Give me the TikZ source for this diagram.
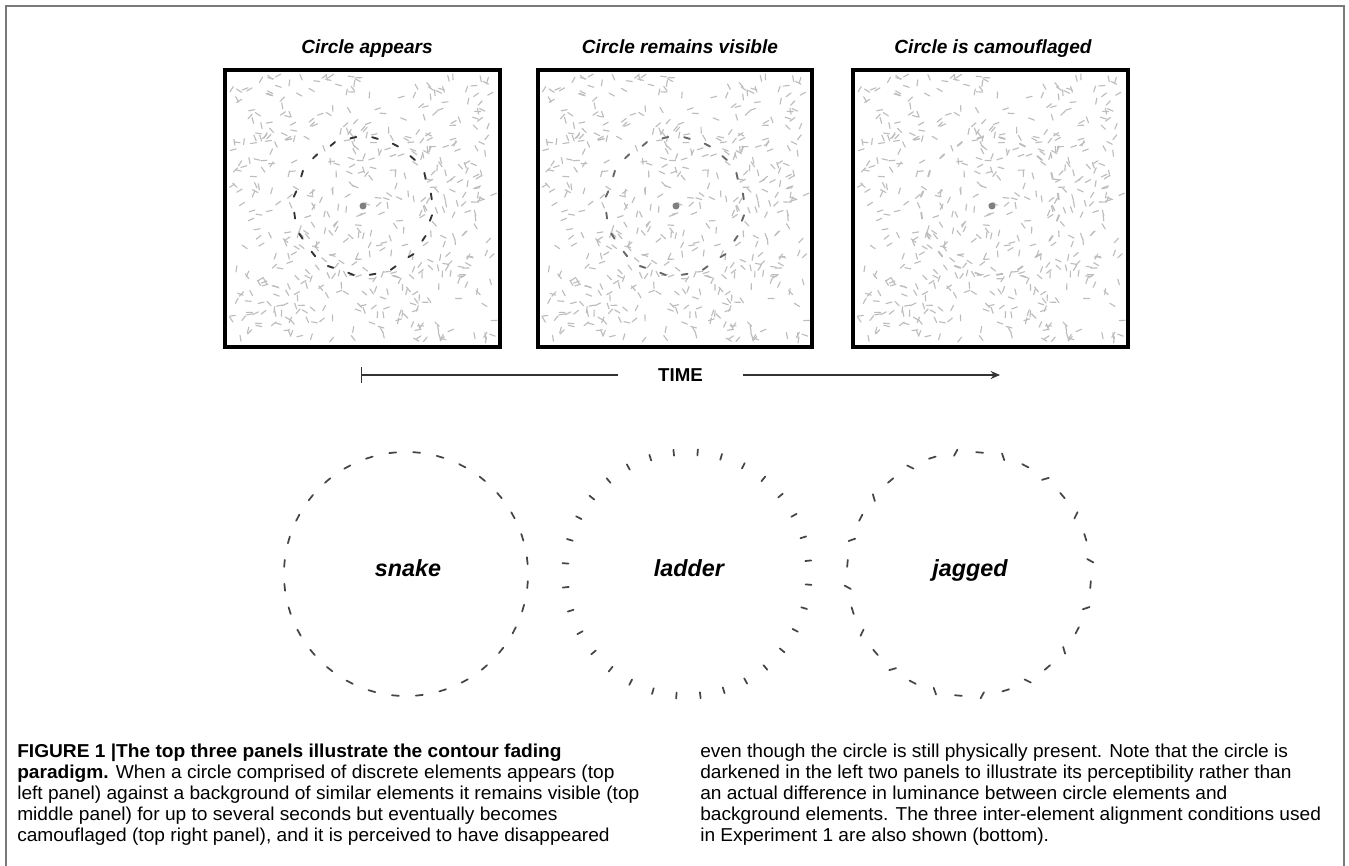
\documentclass[tikz,border=0pt]{standalone}
\usepackage{fontspec}
\setmainfont{Liberation Sans}
\newfontfamily\capfont[FakeStretch=1.025]{Liberation Sans}
\usetikzlibrary{arrows.meta}
\definecolor{bgel}{HTML}{BDBDBD}
\definecolor{darkel}{HTML}{333333}
\definecolor{midel}{HTML}{666666}
\definecolor{framegray}{HTML}{7A7A7A}
\definecolor{ringcol}{HTML}{454545}
\definecolor{linecol}{HTML}{333333}
\tikzset{
  panel/.style={draw=black, line width=3pt, minimum width=206pt, minimum height=208pt, inner sep=0pt},
  ptitle/.style={anchor=base, font=\fontsize{14.3}{17}\selectfont\bfseries\itshape},
  rlabel/.style={anchor=base, font=\fontsize{17.5}{20}\selectfont\bfseries\itshape},
  timelbl/.style={font=\fontsize{14}{16}\selectfont\bfseries, inner xsep=30pt},
  timeln/.style={draw=linecol, line width=1.1pt},
  bgseg/.style={draw=bgel, line width=0.85pt, line cap=round},
  ringel/.style={draw=ringcol, line width=1.3pt, line cap=round},
  capline/.style={anchor=base west, inner sep=0pt, font=\capfont\fontsize{14}{16}\selectfont},
  frameln/.style={draw=framegray, line width=0.8pt}
}
% random background field of a panel centred at (#1,#2)
\newcommand\bgfield[2]{%
  \pgfmathsetseed{4711}%
  \foreach \i in {1,...,540}{%
    \pgfmathsetmacro\rx{#1-132+rnd*264}%
    \pgfmathsetmacro\ry{#2-133+rnd*266}%
    \pgfmathsetmacro\ra{rnd*180}%
    \draw[bgseg] (\rx,\ry) ++(\ra:-3) -- ++(\ra:6);
  }}
% embedded circle in a panel: centre, colour
\newcommand\panelcircle[3]{%
  \pgfmathsetseed{99}%
  \foreach \k in {0,...,19}{%
    \pgfmathsetmacro\ang{100+\k*18}%
    \pgfmathsetmacro\qx{#1+69*cos(\ang)}%
    \pgfmathsetmacro\qy{#2+69*sin(\ang)}%
    \pgfmathsetmacro\ori{\ang+90+rnd*30-15}%
    \draw[draw=#3, line width=1.4pt, line cap=round] (\qx,\qy) ++(\ori:-3) -- ++(\ori:6);
  }}
% contour ring: centre, orientation expression, half length
\newcommand\contourring[4]{%
  \foreach \k in {0,...,31}{%
    \pgfmathsetmacro\ang{95+\k*11.25}%
    \pgfmathsetmacro\qx{#1+122*cos(\ang)}%
    \pgfmathsetmacro\qy{#2+122*sin(\ang)}%
    \pgfmathsetmacro\ori{#3}%
    \draw[ringel] (\qx,\qy) ++(\ori:-#4) -- ++(\ori:2*#4);
  }}
\begin{document}
\begin{tikzpicture}[x=0.75pt,y=-0.75pt]
\useasboundingbox (0,0) rectangle (1349,866);
\fill[white] (0,0) rectangle (1349,866);
% outer frame
\draw[frameln] (6,875) -- (6,6) -- (1344,6) -- (1344,875);

% panels: backgrounds
\bgfield{362.5}{208.5}
\bgfield{675}{208.5}
\bgfield{990.5}{208.5}
\panelcircle{363}{206}{darkel}
\panelcircle{675}{206}{midel}
\panelcircle{990}{206}{bgel}
\fill[gray] (363,206) circle (3.5);
\fill[gray] (676,206) circle (3.5);
\fill[gray] (992,206) circle (3.5);
\node[panel] (p1) at (362.5,208.5) {};
\node[panel] (p2) at (675,208.5) {};
\node[panel] (p3) at (990.5,208.5) {};

% titles
\node[ptitle] (t1) at (367,54) {Circle appears};
\node[ptitle] (t2) at (680,54) {Circle remains visible};
\node[ptitle] (t3) at (993,54) {Circle is camouflaged};

% time arrow
\coordinate (ts) at (361,375);
\coordinate (te) at (1000,375);
\node[timelbl] (time) at (680.5,375) {TIME};
\draw[timeln, {Bar[width=12pt]}-] (ts) -- (time);
\draw[timeln, -{Stealth[length=7pt,width=6pt]}] (time) -- (te);

% contour rings
\contourring{406}{574}{\ang+90}{3.5}
\contourring{687}{574}{\ang}{3}
\contourring{969}{574}{\ang+90+ifthenelse(mod(\k,2)==0,0,ifthenelse(mod(\k,4)==1,55,-55))}{3.5}
\node[rlabel] (snake) at (408,576) {snake};
\node[rlabel] (ladder) at (689,576) {ladder};
\node[rlabel] (jagged) at (970,576) {jagged};

% caption
\node[capline] (c1) at (17,757) {\bfseries FIGURE 1 |The top three panels illustrate the contour fading};
\node[capline] (c2) at (17,778) {\textbf{paradigm.} When a circle comprised of discrete elements appears (top};
\node[capline] (c3) at (17,799) {left panel) against a background of similar elements it remains visible (top};
\node[capline] (c4) at (17,820) {middle panel) for up to several seconds but eventually becomes};
\node[capline] (c5) at (17,841) {camouflaged (top right panel), and it is perceived to have disappeared};
\node[capline] (d1) at (700,757) {even though the circle is still physically present. Note that the circle is};
\node[capline] (d2) at (700,778) {darkened in the left two panels to illustrate its perceptibility rather than};
\node[capline] (d3) at (700,799) {an actual difference in luminance between circle elements and};
\node[capline] (d4) at (700,820) {background elements. The three inter-element alignment conditions used};
\node[capline] (d5) at (700,841) {in Experiment 1 are also shown (bottom).};
\end{tikzpicture}
\end{document}
